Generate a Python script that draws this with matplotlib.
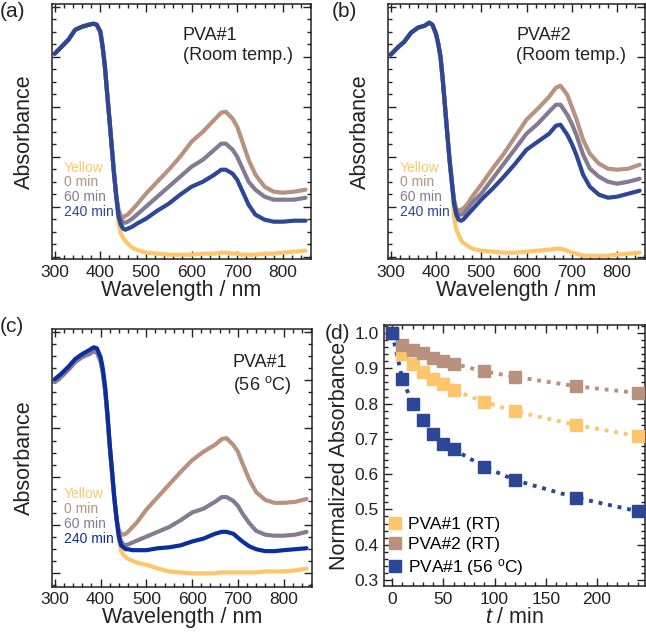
import matplotlib
matplotlib.use("Agg")
import matplotlib.pyplot as plt
from matplotlib.ticker import MultipleLocator
import numpy as np

plt.rcParams['font.family'] = ['Liberation Sans', 'DejaVu Sans']
plt.rcParams['mathtext.fontset'] = 'custom'
plt.rcParams['mathtext.rm'] = 'Liberation Sans'
plt.rcParams['mathtext.it'] = 'Liberation Sans:italic'

# wavelength grid (nm): UV part shared, visible part per series
wl_uv = [300, 315, 330, 345, 360, 375, 385, 392, 400, 405, 410, 415, 420, 425, 430, 435]
wl_vis = [440, 445, 450, 455, 460, 470, 480, 500, 525, 550, 575, 600, 625, 650, 665, 675,
          690, 700, 710, 725, 740, 760, 780, 800, 825, 850]
wl = wl_uv + wl_vis

series_names = ["Yellow", "0 min", "60 min", "240 min"]

# (a) PVA#1, room temp.
a_uv = [2.03, 2.10, 2.17, 2.27, 2.30, 2.32, 2.33, 2.32, 2.25, 2.10, 1.90, 1.63, 1.37, 1.10, 0.83, 0.60]
a_yellow = [0.33, 0.23, 0.19, 0.16, 0.13, 0.09, 0.07, 0.04, 0.03, 0.02, 0.02, 0.02, 0.03, 0.03, 0.04, 0.04,
            0.03, 0.03, 0.02, 0.02, 0.02, 0.03, 0.03, 0.04, 0.05, 0.06]
a_0min = [0.47, 0.41, 0.39, 0.41, 0.42, 0.47, 0.52, 0.63, 0.75, 0.87, 1.00, 1.15, 1.25, 1.37, 1.44, 1.45,
          1.38, 1.30, 1.17, 0.97, 0.82, 0.70, 0.65, 0.64, 0.65, 0.67]
a_60min = [0.43, 0.37, 0.34, 0.34, 0.35, 0.38, 0.42, 0.50, 0.60, 0.70, 0.80, 0.90, 0.97, 1.07, 1.13, 1.13,
           1.07, 1.00, 0.90, 0.75, 0.67, 0.60, 0.57, 0.57, 0.57, 0.59]
a_240min = [0.40, 0.32, 0.28, 0.27, 0.28, 0.30, 0.33, 0.38, 0.46, 0.53, 0.62, 0.70, 0.75, 0.82, 0.87, 0.87,
            0.83, 0.77, 0.67, 0.52, 0.42, 0.37, 0.35, 0.35, 0.36, 0.36]

# (b) PVA#2, room temp.
b_uv = [2.02, 2.09, 2.15, 2.24, 2.29, 2.31, 2.34, 2.32, 2.23, 2.13, 2.00, 1.77, 1.50, 1.23, 0.97, 0.75]
b_yellow = [0.40, 0.27, 0.22, 0.17, 0.14, 0.11, 0.08, 0.06, 0.05, 0.04, 0.04, 0.05, 0.06, 0.07, 0.08, 0.08,
            0.06, 0.04, 0.03, 0.01, 0.01, 0.01, 0.01, 0.02, 0.03, 0.04]
b_0min = [0.57, 0.48, 0.46, 0.47, 0.48, 0.53, 0.60, 0.72, 0.88, 1.03, 1.20, 1.37, 1.48, 1.60, 1.69, 1.71,
          1.62, 1.50, 1.38, 1.17, 1.03, 0.93, 0.88, 0.87, 0.88, 0.92]
b_60min = [0.55, 0.45, 0.42, 0.42, 0.43, 0.48, 0.54, 0.63, 0.78, 0.93, 1.08, 1.23, 1.33, 1.45, 1.52, 1.52,
           1.42, 1.33, 1.22, 1.02, 0.88, 0.80, 0.75, 0.73, 0.75, 0.78]
b_240min = [0.53, 0.42, 0.37, 0.36, 0.37, 0.42, 0.47, 0.57, 0.68, 0.80, 0.93, 1.07, 1.15, 1.23, 1.31, 1.32,
            1.22, 1.13, 1.02, 0.82, 0.70, 0.62, 0.59, 0.60, 0.63, 0.66]

# (c) PVA#1, 56 C
c_uv = [1.98, 2.04, 2.11, 2.19, 2.24, 2.27, 2.30, 2.29, 2.20, 2.08, 1.90, 1.63, 1.32, 1.05, 0.78, 0.56]
c_uv_240 = [2.01, 2.07, 2.14, 2.22, 2.27, 2.31, 2.34, 2.33, 2.24, 2.12, 1.93, 1.66, 1.34, 1.07, 0.79, 0.57]
c_yellow = [0.34, 0.23, 0.19, 0.17, 0.15, 0.13, 0.11, 0.09, 0.05, 0.02, 0.01, 0.00, 0.00, 0.00, 0.01, 0.01,
            0.01, 0.01, 0.01, 0.01, 0.01, 0.02, 0.02, 0.02, 0.03, 0.05]
c_0min = [0.45, 0.41, 0.40, 0.41, 0.43, 0.48, 0.53, 0.66, 0.79, 0.92, 1.05, 1.17, 1.26, 1.33, 1.39, 1.40,
          1.33, 1.26, 1.14, 0.97, 0.84, 0.76, 0.73, 0.73, 0.74, 0.77]
c_60min = [0.41, 0.33, 0.30, 0.29, 0.30, 0.32, 0.34, 0.38, 0.43, 0.48, 0.55, 0.63, 0.67, 0.74, 0.79, 0.79,
           0.75, 0.70, 0.62, 0.52, 0.44, 0.40, 0.39, 0.39, 0.40, 0.43]
c_240min = [0.38, 0.29, 0.27, 0.25, 0.25, 0.24, 0.24, 0.24, 0.26, 0.27, 0.29, 0.33, 0.36, 0.41, 0.43, 0.43,
            0.41, 0.37, 0.33, 0.28, 0.25, 0.23, 0.23, 0.24, 0.25, 0.26]

# (d) normalized absorbance vs time
t_min = [0, 10, 20, 30, 40, 50, 60, 90, 120, 180, 240]
pva1_rt = [1.0, 0.940, 0.911, 0.890, 0.869, 0.855, 0.838, 0.805, 0.778, 0.739, 0.708]
pva2_rt = [1.0, 0.967, 0.953, 0.942, 0.930, 0.921, 0.913, 0.891, 0.876, 0.849, 0.830]
pva1_56 = [1.0, 0.869, 0.800, 0.753, 0.715, 0.685, 0.670, 0.621, 0.583, 0.533, 0.495]
d_labels = ["PVA#1 (RT)", "PVA#2 (RT)", r"PVA#1 (56 $^{\mathrm{o}}$C)"]

c_yel = '#FEC56B'
c_brn = '#B8927F'
c_gry = '#857A93'
c_blu = '#2D4797'
c_blu2 = '#0B2E9E'
txt = '#222222'

fig = plt.figure(figsize=(6.46, 6.36), dpi=100)
ax_a = fig.add_axes([0.0805, 0.592, 0.401, 0.4017])
ax_b = fig.add_axes([0.6006, 0.592, 0.398, 0.4017])
ax_c = fig.add_axes([0.0805, 0.0775, 0.4025, 0.405])
ax_d = fig.add_axes([0.5944, 0.0786, 0.404, 0.41])


def style(ax):
    ax.tick_params(which='both', direction='in', top=True, right=True, colors=txt,
                   labelsize=12.5, width=1, pad=4)
    ax.tick_params(which='major', length=6)
    ax.tick_params(which='minor', length=3)
    for s in ax.spines.values():
        s.set_linewidth(1.1)
        s.set_color(txt)


def spectra(ax, uv, yel, m0, m60, m240, ylim, note, blue, uv240=None):
    if uv240 is None:
        uv240 = uv
    cols = [c_yel, c_brn, c_gry, blue]
    ys = [uv + yel, uv + m0, uv + m60, uv240 + m240]
    for y, col in zip(ys, cols):
        ax.plot(wl, y, color=col, lw=3.0, solid_capstyle='round', solid_joinstyle='round')
    ax.set_xlim(294, 862)
    ax.set_ylim(*ylim)
    ax.xaxis.set_major_locator(MultipleLocator(100))
    ax.xaxis.set_minor_locator(MultipleLocator(20))
    ax.yaxis.set_major_locator(MultipleLocator(0.5))
    ax.yaxis.set_minor_locator(MultipleLocator(0.125))
    ax.set_yticklabels([])
    ax.set_xlabel('Wavelength / nm', fontsize=15.5, color=txt, labelpad=0)
    ax.set_ylabel('Absorbance', fontsize=15.5, color=txt, labelpad=8)
    style(ax)
    for i, (name, col) in enumerate(zip(series_names, cols)):
        ax.text(0.045, 0.36 - i * 0.058, name, color=col, fontsize=10,
                transform=ax.transAxes, va='center', ha='left')
    ax.text(note[0], note[1], note[2], fontsize=13, color=txt, transform=ax.transAxes,
            va='top', ha='left', linespacing=1.2)


spectra(ax_a, a_uv, a_yellow, a_0min, a_60min, a_240min, (-0.028, 2.527),
        (0.505, 0.91, 'PVA#1\n(Room temp.)'), c_blu)
spectra(ax_b, b_uv, b_yellow, b_0min, b_60min, b_240min, (-0.028, 2.527),
        (0.498, 0.91, 'PVA#2\n(Room temp.)'), c_blu)
spectra(ax_c, c_uv, c_yellow, c_0min, c_60min, c_240min, (-0.138, 2.528),
        (0.695, 0.905, 'PVA#1\n' + r'(56 $^{\mathrm{o}}$C)'), c_blu2, uv240=c_uv_240)

# (d)
for y, col, lab in zip([pva1_rt, pva2_rt, pva1_56], [c_yel, c_brn, c_blu], d_labels):
    ax_d.plot(t_min, y, color=col, lw=2.8, ls=(0, (1, 1.5)), zorder=2)
    ax_d.plot(t_min, y, ls='none', marker='s', ms=8.5, color=col, mec=col, zorder=3, label=lab)
ax_d.set_xlim(-8, 247)
ax_d.set_ylim(0.283, 1.022)
ax_d.xaxis.set_major_locator(MultipleLocator(50))
ax_d.xaxis.set_minor_locator(MultipleLocator(10))
ax_d.yaxis.set_major_locator(MultipleLocator(0.1))
ax_d.yaxis.set_minor_locator(MultipleLocator(0.02))
ax_d.set_yticks(np.arange(0.3, 1.01, 0.1))
ax_d.set_yticklabels(['%.1f' % v for v in np.arange(0.3, 1.01, 0.1)])
ax_d.set_xlabel('$t$ / min', fontsize=15.5, color=txt, labelpad=0)
ax_d.set_ylabel('Normalized Absorbance', fontsize=15.5, color=txt, labelpad=3)
style(ax_d)
ax_d.legend(loc='lower left', frameon=False, fontsize=12.5, handletextpad=0.25,
            borderaxespad=0.2, labelspacing=0.3, handlelength=1.0,
            bbox_to_anchor=(-0.03, -0.01))

fig.text(0.0, 0.982, '(a)', fontsize=15, color=txt, va='center', ha='left')
fig.text(0.514, 0.982, '(b)', fontsize=15, color=txt, va='center', ha='left')
fig.text(0.0, 0.486, '(c)', fontsize=15, color=txt, va='center', ha='left')
fig.text(0.503, 0.476, '(d)', fontsize=15, color=txt, va='center', ha='left')

fig.savefig('out.png', dpi=100)
